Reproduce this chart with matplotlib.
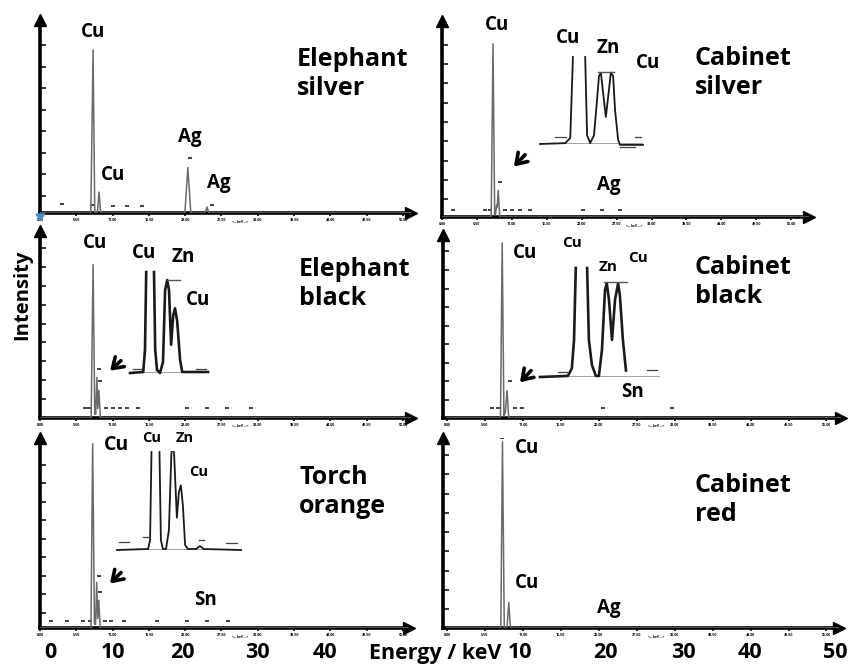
import numpy as np
import matplotlib
matplotlib.use('Agg')
import matplotlib.pyplot as plt
from matplotlib.patches import Polygon

plt.rcParams['font.family'] = ['Open Sans', 'DejaVu Sans']
plt.rcParams['font.weight'] = 'bold'

W, H = 853, 666

# ---- spectra: energy (keV) vs relative intensity ----
es_energy = [0, 7.7, 8.04, 8.3, 8.7, 8.94, 9.2, 21.95, 22.4, 22.85, 25.0, 25.3, 25.6, 57]
es_counts = [0, 0, 0.846, 0, 0, 0.108, 0, 0, 0.236, 0, 0, 0.031, 0, 0]
es_mark_e = [3.3, 7.9, 11.1, 13.2, 15.5, 22.7, 26.1]
es_mark_c = [0.046, 0.04, 0.036, 0.036, 0.036, 0.287, 0.04]

eb_energy = [0, 7.75, 8.04, 8.3, 8.45, 8.62, 8.76, 8.92, 9.15, 57]
eb_counts = [0, 0, 0.82, 0.02, 0.02, 0.217, 0.05, 0.148, 0, 0]
eb_mark_e = [6.8, 7.4, 10.0, 11.0, 12.1, 13.2, 14.8, 22.3, 25.3, 28.3, 32.0, 8.9, 9.1]
eb_mark_c = [0.053, 0.053, 0.053, 0.053, 0.053, 0.053, 0.053, 0.053, 0.053, 0.053, 0.053, 0.26, 0.196]

to_energy = [0, 7.72, 7.98, 8.25, 8.42, 8.59, 8.74, 8.9, 9.12, 57]
to_counts = [0, 0, 0.97, 0.02, 0.02, 0.24, 0.05, 0.146, 0, 0]
to_mark_e = [1.7, 4.1, 6.5, 7.6, 9.8, 10.8, 12.7, 17.7, 22.3, 25.3, 28.5, 8.9, 9.1]
to_mark_c = [0.036, 0.036, 0.036, 0.036, 0.036, 0.036, 0.036, 0.036, 0.036, 0.036, 0.036, 0.276, 0.19]

cs_energy = [0, 7.75, 8.03, 8.3, 8.45, 8.6, 8.7, 8.85, 9.1, 58]
cs_counts = [0, 0, 0.884, 0.01, 0.02, 0.06, 0.05, 0.136, 0, 0]
cs_mark_e = [1.7, 6.8, 7.6, 9.9, 11.0, 12.3, 13.9, 22.2, 25.2, 28.0, 9.1]
cs_mark_c = [0.035, 0.035, 0.035, 0.035, 0.035, 0.035, 0.035, 0.035, 0.035, 0.035, 0.177]

cb_energy = [0, 7.75, 8.0, 8.25, 8.45, 8.7, 8.95, 57]
cb_counts = [0, 0, 0.957, 0.01, 0.03, 0.15, 0, 0]
cb_mark_e = [6.5, 7.4, 9.9, 10.9, 22.6, 32.6, 9.1]
cb_mark_c = [0.054, 0.054, 0.054, 0.054, 0.054, 0.054, 0.2]

cr_energy = [0, 7.8, 8.04, 8.3, 8.7, 8.95, 9.2, 57]
cr_counts = [0, 0, 0.98, 0, 0, 0.135, 0, 0]
cr_mark_e = [8.04]
cr_mark_c = [1.0]

# ---- zoomed insets around Cu K-alpha / Zn K-alpha / Cu K-beta ----
ieb_energy = [7.37, 7.81, 7.87, 7.91, np.nan, 8.17, 8.21, 8.27, 8.37, 8.47, 8.54, 8.61,
              8.67, 8.74, 8.81, 8.87, 8.94, 9.04, 9.11, 9.97]
ieb_counts = [0.0, 0.01, 0.23, 1.0, np.nan, 1.0, 0.23, 0.03, 0.0, 0.11, 0.82, 0.92,
              0.82, 0.28, 0.57, 0.64, 0.52, 0.13, 0.01, 0.01]

ito_energy = [6.69, 7.78, 7.85, 7.90, np.nan, 8.18, 8.23, 8.30, 8.41, 8.51, 8.60, 8.69,
              8.79, 8.86, 8.93, 9.00, 9.08, 9.18, 9.46, 9.60, 9.74, 11.04]
ito_counts = [0.0, 0.01, 0.10, 1.0, np.nan, 1.0, 0.10, 0.01, 0.01, 0.20, 1.0, 1.0,
              0.33, 0.59, 0.66, 0.46, 0.05, 0.01, 0.01, 0.04, 0.01, 0.0]

ics_energy = [7.02, 7.68, 7.81, 7.88, np.nan, 8.20, 8.25, 8.33, 8.43, 8.51, 8.56, 8.61,
              8.66, 8.74, 8.82, 8.87, 8.93, 8.98, 9.06, 9.11, 9.71]
ics_counts = [0.0, 0.01, 0.07, 1.0, np.nan, 1.0, 0.10, 0.01, 0.10, 0.51, 0.78, 0.82,
              0.62, 0.31, 0.62, 0.82, 0.78, 0.39, 0.05, -0.01, -0.01]

icb_energy = [7.09, 7.73, 7.82, 7.87, 7.91, np.nan, 8.17, 8.21, 8.28, 8.37, 8.44, 8.51,
              8.58, 8.62, 8.67, 8.74, 8.81, 8.88, 8.92, 8.99, 9.06]
icb_counts = [0.0, 0.01, 0.08, 0.34, 1.0, np.nan, 1.0, 0.34, 0.11, 0.01, 0.01, 0.25,
              0.80, 0.86, 0.71, 0.34, 0.71, 0.86, 0.75, 0.34, 0.06]

# flat "top" markers drawn by the software over the Zn/Cu doublet
ieb_top = ([8.61, 9.04], [0.92, 0.92])
ito_top = ([8.60, 8.69], [1.0, 1.0])
ics_top = ([8.53, 8.95], [0.83, 0.83])
icb_top = ([8.56, 9.08], [0.87, 0.87])

fig = plt.figure(figsize=(W / 100, H / 100), dpi=100)


def px_axes(left, base, right, top):
    return fig.add_axes([left / W, 1 - base / H, (right - left) / W, (base - top) / H])


def label(x, y, s, size=13.5, ha='center'):
    fig.text(x / W, 1 - y / H, s, fontsize=size, fontweight='bold', ha=ha, va='center')


# (left px, baseline px, right px, top px), pixel of 0 keV, px per keV
panels = [
    dict(box=(40, 213, 411, 20), x0=40, s=6.6, e=es_energy, c=es_counts,
         me=es_mark_e, mc=es_mark_c, ticks=(0.09, 0.87, 8)),
    dict(box=(40, 418, 411, 231), x0=40, s=6.6, e=eb_energy, c=eb_counts,
         me=eb_mark_e, mc=eb_mark_c, ticks=(0.1, 0.91, 9),
         arrow=((12.58, 0.317), (10.3, 0.243))),
    dict(box=(40, 628, 409, 438), x0=40, s=6.6, e=to_energy, c=to_counts,
         me=to_mark_e, mc=to_mark_c, ticks=(0.08, 0.86, 9),
         arrow=((12.58, 0.302), (10.3, 0.224))),
    dict(box=(442, 217, 809, 21), x0=442, s=6.35, e=cs_energy, c=cs_counts,
         me=cs_mark_e, mc=cs_mark_c, ticks=(0.09, 0.88, 9),
         arrow=((13.39, 0.328), (11.02, 0.247))),
    dict(box=(443, 418, 841, 235), x0=447, s=6.9, e=cb_energy, c=cb_counts,
         me=cb_mark_e, mc=cb_mark_c, ticks=(0.1, 0.91, 9),
         arrow=((12.46, 0.27), (10.29, 0.184))),
    dict(box=(443, 628, 839, 438), x0=447, s=6.9, e=cr_energy, c=cr_counts,
         me=cr_mark_e, mc=cr_mark_c, ticks=(0.1, 0.91, 9)),
]

for p in panels:
    L, B, R, T = p['box']
    ax = px_axes(L, B, R, T)
    ax.set_xlim((L - p['x0']) / p['s'], (R - p['x0']) / p['s'])
    ax.set_ylim(0, 1)
    ax.plot(p['e'], p['c'], color='#6a6a6a', lw=1.1, zorder=3)
    ax.plot(p['me'], p['mc'], ls='none', marker='_', ms=3, mew=1.3, color='#333333')
    for side in ['top', 'right']:
        ax.spines[side].set_visible(False)
    for side in ['left', 'bottom']:
        ax.spines[side].set_linewidth(2.6)
    ax.plot(1, 0, '>k', ms=8, transform=ax.transAxes, clip_on=False)
    ax.plot(0, 1, '^k', ms=8, transform=ax.transAxes, clip_on=False)
    ax.set_xticks(np.arange(0, 55.1, 5.5))
    ax.set_xticklabels(['%.2f' % t for t in np.arange(0, 55.1, 5.5)])
    ax.tick_params(axis='x', direction='out', length=2.5, width=1.2, labelsize=2.6, pad=1)
    lo, hi, n = p['ticks']
    ax.set_yticks(np.linspace(lo, hi, n))
    ax.tick_params(axis='y', direction='in', length=4, width=1.1, labelleft=False)
    # software's small "<-- keV -->" caption, placed between two tick labels
    ax.text(30.25, -0.045, '<-- keV -->', fontsize=2.4, ha='center', va='center', clip_on=False)
    ax.patch.set_alpha(0)
    if 'arrow' in p:
        tail, tip = p['arrow']
        ax.annotate('', xy=tip, xytext=tail,
                    arrowprops=dict(arrowstyle='->,head_length=0.45,head_width=0.3',
                                    color='k', lw=2.6, mutation_scale=16))

# insets: (pixel box), energy window, curve, top marker, line width
insets = [
    dict(box=(130, 373, 208, 272), win=(7.37, 9.97), e=ieb_energy, c=ieb_counts, top=ieb_top, lw=1.9,
         dash=[(7.47, 7.74, 0.04), (9.57, 9.91, 0.04)]),
    dict(box=(117, 550, 241, 452), win=(6.69, 11.04), e=ito_energy, c=ito_counts, top=ito_top, lw=1.3,
         dash=[(6.75, 7.1, 0.08), (7.6, 7.85, 0.13), (9.55, 9.75, 0.1), (10.5, 10.9, 0.07)]),
    dict(box=(540, 144, 643, 57), win=(7.02, 9.71), e=ics_energy, c=ics_counts, top=ics_top, lw=1.3,
         dash=[(7.4, 7.7, 0.08), (9.5, 9.65, 0.08), (9.1, 9.5, -0.03)]),
    dict(box=(540, 377, 660, 268), win=(7.09, 9.84), e=icb_energy, c=icb_counts, top=icb_top, lw=1.9,
         dash=[(7.5, 7.7, 0.05), (9.54, 9.77, 0.06)]),
]

for q in insets:
    iax = px_axes(*q['box'])
    iax.set_xlim(*q['win'])
    iax.set_ylim(0, 1)
    iax.axis('off')
    iax.axhline(0, color='#8a8a8a', lw=1.1)
    iax.plot(q['e'], q['c'], color='#1a1a1a', lw=q['lw'], clip_on=False)
    iax.plot(q['top'][0], q['top'][1], color='#555555', lw=1.0, clip_on=False)
    for a, b, y in q['dash']:
        iax.plot([a, b], [y, y], color='#444444', lw=0.9, clip_on=False)

# peak labels
label(93, 32, 'Cu')
label(113, 175, 'Cu')
label(190, 137, 'Ag')
label(219, 183, 'Ag')

label(95, 243, 'Cu')
label(144, 253, 'Cu')
label(183, 257, 'Zn')
label(198, 300, 'Cu')

label(117, 445, 'Cu', 14)
label(152, 438, 'Cu', 10.5)
label(185, 438, 'Zn', 10.5)
label(199, 472, 'Cu', 10.5)
label(206, 600, 'Sn')

label(497, 25, 'Cu')
label(568, 38, 'Cu')
label(608, 48, 'Zn')
label(648, 63, 'Cu')
label(609, 185, 'Ag')

label(525, 253, 'Cu')
label(572, 243, 'Cu', 11)
label(608, 267, 'Zn', 11)
label(638, 258, 'Cu', 11)
label(633, 392, 'Sn')

label(527, 448, 'Cu')
label(527, 583, 'Cu')
label(609, 608, 'Ag')

# sample names
label(297, 74, 'Elephant\nsilver', 18, ha='left')
label(299, 284, 'Elephant\nblack', 18, ha='left')
label(299, 492, 'Torch\norange', 18, ha='left')
label(695, 73, 'Cabinet\nsilver', 18, ha='left')
label(695, 282, 'Cabinet\nblack', 18, ha='left')
label(695, 500, 'Cabinet\nred', 18, ha='left')

# shared axis labels
fig.text(22 / W, 1 - 295 / H, 'Intensity', rotation=90, fontsize=14.5,
         fontweight='bold', ha='center', va='center')
for x, s in [(50, '0'), (113, '10'), (182, '20'), (257, '30'), (325, '40'),
             (520, '10'), (605, '20'), (683, '30'), (750, '40'), (835, '50')]:
    label(x, 653, s, 15.5)
label(435, 653, 'Energy / keV', 15.5)

# small blue scan artefact at the origin of the first panel
fig.patches.append(Polygon([(36 / W, 1 - 214 / H), (45 / W, 1 - 214 / H), (40 / W, 1 - 220 / H)],
                           closed=True, color='#4a8fd6', transform=fig.transFigure))

fig.savefig('out.png', dpi=100)
